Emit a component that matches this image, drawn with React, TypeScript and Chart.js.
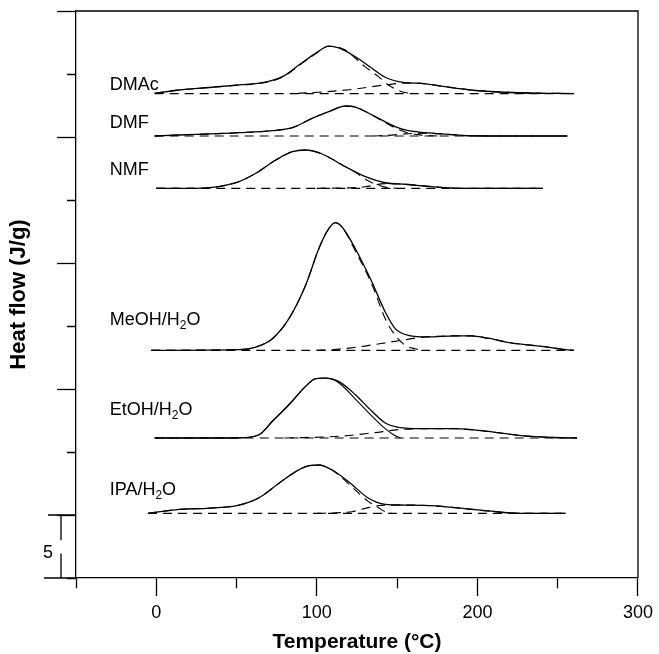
import React, { useEffect, useRef } from "react";
import { Chart, registerables } from "chart.js";

Chart.register(...registerables);

type Pt = [number, number];

// ---- axes ----
const xTickValues = [-50, 0, 50, 100, 150, 200, 250, 300];
const xLabelledTicks = [0, 100, 200, 300];
const yTickValues = [0, 5, 10, 15, 20, 25, 30, 35, 40, 45];
const yLongTicks = [5, 15, 25, 35, 45];
const scaleBarSize = 5;
const xTitle = "Temperature (°C)";
const yTitle = "Heat flow (J/g)";

// ---- DMAc ----
const dmacTotal: Pt[] = [[-1, 38.47], [14.4, 38.73], [31, 38.91], [51.6, 39.13], [66, 39.31], [78.5, 39.79], [88.8, 40.71], [99.2, 41.64], [107.4, 42.22], [113.6, 42.08], [124, 41.37], [134.3, 40.45], [142.6, 39.74], [155, 39.31], [165, 39.26], [179.8, 38.99], [196, 38.73], [217, 38.55], [240, 38.47], [260, 38.45]];
const dmacPeak1: Pt[] = [[-1, 38.47], [14.4, 38.73], [31, 38.91], [51.6, 39.12], [66, 39.28], [78.5, 39.74], [88.8, 40.66], [99.2, 41.6], [107.4, 42.2], [117.8, 41.9], [124, 41.25], [130, 40.58], [138.4, 39.79], [144.6, 39.13], [152.9, 38.6], [157, 38.47]];
const dmacPeak2: Pt[] = [[88, 38.47], [101, 38.55], [120, 38.75], [142.6, 39.13], [155, 39.28], [165, 39.26], [179.8, 38.99], [196, 38.73], [217, 38.55], [240, 38.47], [260, 38.45]];
const dmacBaseline: Pt[] = [[-1, 38.45], [260, 38.45]];

// ---- DMF ----
const dmfTotal: Pt[] = [[-1, 35.08], [14.4, 35.16], [31, 35.24], [51.6, 35.34], [72.3, 35.5], [84.7, 35.74], [97, 36.48], [107.4, 37.01], [117.8, 37.46], [124, 37.38], [134.3, 36.75], [146.7, 35.95], [155, 35.56], [167.4, 35.34], [181.8, 35.21], [196.2, 35.1], [217, 35.08], [256, 35.08]];
const dmfPeak1: Pt[] = [[-1, 35.08], [14.4, 35.16], [31, 35.24], [51.6, 35.34], [72.3, 35.5], [84.7, 35.74], [97, 36.48], [107.4, 37.01], [117.8, 37.46], [124, 37.38], [134.3, 36.75], [146.7, 35.85], [155, 35.4], [165, 35.15], [175, 35.08]];
const dmfPeak2: Pt[] = [[135, 35.08], [146.7, 35.15], [155, 35.25], [167.4, 35.3], [181.8, 35.21], [196.2, 35.1], [217, 35.08], [256, 35.08]];
const dmfBaseline: Pt[] = [[-1, 35.08], [256, 35.08]];

// ---- NMF ----
const nmfTotal: Pt[] = [[0, 30.93], [24.8, 30.93], [49.6, 31.37], [62, 32.12], [74.4, 33.17], [84.7, 33.83], [93, 33.97], [103.3, 33.65], [117.8, 32.64], [130.2, 31.85], [142.6, 31.37], [155, 31.25], [171.4, 31.06], [188, 30.93], [240.7, 30.93]];
const nmfPeak1: Pt[] = [[0, 30.93], [24.8, 30.93], [49.6, 31.37], [62, 32.12], [74.4, 33.17], [84.7, 33.83], [93, 33.97], [103.3, 33.65], [117.8, 32.64], [124, 32.2], [130.2, 31.64], [134.3, 31.37], [142.6, 31.02], [150, 30.93]];
const nmfPeak2: Pt[] = [[100, 30.93], [120, 30.97], [130, 31.05], [142.6, 31.3], [155, 31.25], [171.4, 31.06], [188, 30.93], [240.7, 30.93]];
const nmfBaseline: Pt[] = [[0, 30.93], [240.7, 30.93]];

// ---- MeOH/H2O ----
const meohTotal: Pt[] = [[-3.1, 18.07], [51.6, 18.12], [62, 18.33], [72.3, 18.99], [82.6, 20.58], [93, 23.23], [101.2, 26.13], [107.4, 27.72], [111.6, 28.2], [115.7, 27.86], [124, 26.13], [134.3, 23.49], [142.6, 21.11], [148.8, 19.79], [157, 19.26], [169.4, 19.13], [186, 19.21], [196.2, 19.21], [206.6, 19.03], [220, 18.68], [243.8, 18.32], [255, 18.12], [260, 18.07]];
const meohPeak1: Pt[] = [[-3.1, 18.07], [51.6, 18.12], [62, 18.33], [72.3, 18.99], [82.6, 20.58], [93, 23.23], [101.2, 26.13], [107.4, 27.72], [111.6, 28.2], [115.7, 27.86], [124, 25.95], [134.3, 23.3], [142.6, 20.58], [148.8, 19.26], [155, 18.47], [161, 18.2], [166, 18.07]];
const meohPeak2: Pt[] = [[100, 18.07], [110, 18.12], [120, 18.25], [130, 18.41], [140, 18.61], [152.9, 18.87], [165.3, 19.1], [186, 19.21], [196.2, 19.21], [206.6, 19.03], [220, 18.68], [243.8, 18.32], [255, 18.12], [260, 18.07]];
const meohBaseline: Pt[] = [[-3.1, 18.07], [260, 18.07]];

// ---- EtOH/H2O ----
const etohTotal: Pt[] = [[-1, 11.11], [49.6, 11.11], [64, 11.37], [72.3, 12.44], [82.6, 13.75], [93, 15.21], [99.2, 15.82], [105.4, 15.87], [113.6, 15.61], [124, 14.55], [134.3, 13.23], [142.6, 12.3], [150.8, 11.96], [165.3, 11.85], [186, 11.85], [196.2, 11.77], [206.6, 11.63], [227.2, 11.3], [248, 11.15], [262, 11.11]];
const etohPeak1: Pt[] = [[-1, 11.11], [49.6, 11.11], [64, 11.37], [72.3, 12.44], [82.6, 13.75], [93, 15.21], [99.2, 15.82], [105.4, 15.87], [113.6, 15.5], [124, 14.2], [134.3, 12.85], [142.6, 11.85], [148, 11.35], [152, 11.11]];
const etohPeak2: Pt[] = [[80, 11.11], [113.6, 11.25], [134.3, 11.51], [150.8, 11.77], [165.3, 11.85], [186, 11.85], [196.2, 11.77], [206.6, 11.63], [227.2, 11.3], [248, 11.15], [262, 11.11]];
const etohBaseline: Pt[] = [[-1, 11.11], [262, 11.11]];

// ---- IPA/H2O ----
const ipaTotal: Pt[] = [[-5.2, 5.13], [14.4, 5.45], [31, 5.53], [51.6, 5.79], [64, 6.37], [76.4, 7.52], [86.8, 8.44], [95, 8.91], [101.2, 8.97], [109.5, 8.57], [119.8, 7.64], [132.2, 6.33], [142.6, 5.85], [155, 5.79], [171.4, 5.74], [186, 5.58], [206.6, 5.32], [227.2, 5.13], [255, 5.13]];
const ipaPeak1: Pt[] = [[-5.2, 5.13], [14.4, 5.45], [31, 5.53], [51.6, 5.79], [64, 6.37], [76.4, 7.52], [86.8, 8.44], [95, 8.91], [101.2, 8.97], [107, 8.75], [113.6, 8.17], [124, 6.98], [132.2, 6.06], [138.4, 5.58], [142.6, 5.26], [146.8, 5.13]];
const ipaPeak2: Pt[] = [[100, 5.13], [112, 5.17], [121.9, 5.26], [130.2, 5.53], [142.6, 5.79], [155, 5.79], [171.4, 5.74], [186, 5.58], [206.6, 5.32], [227.2, 5.13], [255, 5.13]];
const ipaBaseline: Pt[] = [[-5.2, 5.13], [255, 5.13]];

// ---- curve labels ----
const sampleLabels = ["DMAc", "DMF", "NMF", "MeOH/H₂O", "EtOH/H₂O", "IPA/H₂O"];
const labelTemp = -29;
const labelLevels = [38.73, 35.69, 31.98, 20.08, 12.94, 6.59];

const samples = [
  { total: dmacTotal, peak1: dmacPeak1, peak2: dmacPeak2, base: dmacBaseline, solidPeak1: false },
  { total: dmfTotal, peak1: dmfPeak1, peak2: dmfPeak2, base: dmfBaseline, solidPeak1: false },
  { total: nmfTotal, peak1: nmfPeak1, peak2: nmfPeak2, base: nmfBaseline, solidPeak1: false },
  { total: meohTotal, peak1: meohPeak1, peak2: meohPeak2, base: meohBaseline, solidPeak1: false },
  { total: etohTotal, peak1: etohPeak1, peak2: etohPeak2, base: etohBaseline, solidPeak1: true },
  { total: ipaTotal, peak1: ipaPeak1, peak2: ipaPeak2, base: ipaBaseline, solidPeak1: false },
];

const FONT = "'Liberation Sans', Arial, Helvetica, sans-serif";
const INK = "#000";
const DASH = [9, 6];

const toXY = (pts: Pt[]) => pts.map(([x, y]) => ({ x, y }));

function lineDs(pts: Pt[], dashed: boolean, width: number) {
  return {
    data: toXY(pts),
    borderColor: INK,
    borderWidth: width,
    borderDash: dashed ? DASH : [],
    pointRadius: 0,
    fill: false,
    cubicInterpolationMode: "monotone" as const,
  };
}

const decorPlugin = {
  id: "decor",
  afterDraw(chart: any) {
    const { ctx, chartArea, scales } = chart;
    const { left, right, top, bottom } = chartArea;
    const xs = scales.x;
    const ys = scales.y;
    ctx.save();
    ctx.strokeStyle = INK;
    ctx.lineWidth = 1.3;
    ctx.setLineDash([]);
    // frame top & right
    ctx.beginPath();
    ctx.moveTo(left, top);
    ctx.lineTo(right, top);
    ctx.lineTo(right, bottom);
    ctx.stroke();
    // scale bar
    const y0 = ys.getPixelForValue(0);
    const y5 = ys.getPixelForValue(scaleBarSize);
    const barX = left - 15;
    ctx.beginPath();
    ctx.moveTo(left - 28, y5);
    ctx.lineTo(left, y5);
    ctx.moveTo(left - 32, y0);
    ctx.lineTo(left, y0);
    ctx.moveTo(barX, y5);
    ctx.lineTo(barX, ys.getPixelForValue(scaleBarSize * 0.6));
    ctx.moveTo(barX, ys.getPixelForValue(scaleBarSize * 0.39));
    ctx.lineTo(barX, y0);
    ctx.stroke();
    ctx.fillStyle = INK;
    ctx.font = `18px ${FONT}`;
    ctx.textAlign = "center";
    ctx.textBaseline = "middle";
    ctx.fillText(String(scaleBarSize), left - 28, ys.getPixelForValue(scaleBarSize * 0.4));
    // curve labels
    ctx.textAlign = "left";
    ctx.textBaseline = "alphabetic";
    sampleLabels.forEach((label, i) => {
      let x = xs.getPixelForValue(labelTemp);
      const y = ys.getPixelForValue(labelLevels[i]);
      const parts = label.split("₂");
      parts.forEach((part, j) => {
        ctx.font = `18px ${FONT}`;
        ctx.fillText(part, x, y);
        x += ctx.measureText(part).width;
        if (j < parts.length - 1) {
          ctx.font = `12px ${FONT}`;
          ctx.fillText("2", x, y + 4);
          x += ctx.measureText("2").width;
        }
      });
    });
    ctx.restore();
  },
};

export default function App() {
  const ref = useRef<HTMLCanvasElement | null>(null);
  useEffect(() => {
    if (!ref.current) return;
    const datasets: any[] = [];
    samples.forEach((s) => {
      datasets.push(lineDs(s.base, true, 1.2));
      datasets.push(lineDs(s.peak2, true, 1.2));
      datasets.push(lineDs(s.peak1, !s.solidPeak1, 1.1));
      datasets.push(lineDs(s.total, false, 1.3));
    });
    const chart = new Chart(ref.current, {
      type: "line",
      data: { datasets },
      options: {
        animation: false,
        responsive: false,
        devicePixelRatio: 1,
        layout: { padding: { left: 0, top: 11, right: 18.3, bottom: 0 } },
        plugins: { legend: { display: false }, tooltip: { enabled: false } },
        elements: { point: { radius: 0 } },
        scales: {
          x: {
            type: "linear",
            min: -50,
            max: 300,
            afterBuildTicks: (s: any) => {
              s.ticks = xTickValues.map((v) => ({ value: v }));
            },
            afterFit: (s: any) => {
              s.height = 76;
            },
            grid: {
              drawOnChartArea: false,
              drawTicks: true,
              tickLength: 18,
              tickWidth: 1.3,
              tickColor: INK,
              tickBorderDash: (c: any) =>
                c.tick && xLabelledTicks.includes(c.tick.value) ? [] : [10, 40],
            },
            border: { display: true, color: INK, width: 1.3 },
            ticks: {
              color: INK,
              font: { family: FONT, size: 18, lineHeight: 1.2 },
              padding: 6,
              maxRotation: 0,
              autoSkip: false,
              callback: (v: any) => (xLabelledTicks.includes(v) ? String(v) : ""),
            },
            title: {
              display: true,
              text: xTitle,
              color: INK,
              font: { family: FONT, size: 21, weight: "bold", lineHeight: 1 },
              padding: { top: 0, bottom: 1 },
            },
          },
          y: {
            type: "linear",
            min: 0,
            max: 45,
            afterBuildTicks: (s: any) => {
              s.ticks = yTickValues.map((v) => ({ value: v }));
            },
            afterFit: (s: any) => {
              s.width = 76;
            },
            grid: {
              drawOnChartArea: false,
              drawTicks: true,
              tickLength: 19,
              tickWidth: 1.3,
              tickColor: INK,
              tickBorderDash: (c: any) =>
                c.tick && yLongTicks.includes(c.tick.value) ? [] : [0, 10, 10, 40],
            },
            border: { display: true, color: INK, width: 1.3 },
            ticks: { display: false },
            title: {
              display: true,
              text: yTitle,
              color: INK,
              font: { family: FONT, size: 22, weight: "bold", lineHeight: 1 },
              padding: { top: 8, bottom: 0 },
            },
          },
        },
      },
      plugins: [decorPlugin],
    } as any);
    return () => chart.destroy();
  }, []);
  return (
    <div style={{ position: "absolute", left: 0, top: 0, width: 659, height: 654, background: "#fff" }}>
      <canvas ref={ref} width={659} height={654} style={{ width: 659, height: 654, display: "block" }} />
    </div>
  );
}
